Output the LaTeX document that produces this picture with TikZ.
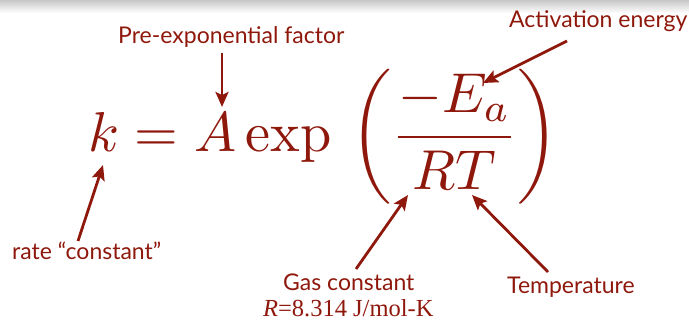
\documentclass[tikz,border=0pt]{standalone}
\usepackage{graphicx}
\usepackage{fontspec}
\usetikzlibrary{arrows.meta}
\newfontfamily\lblfont{Lato}
\newfontfamily\serifnum{Liberation Serif}
\definecolor{myred}{RGB}{143,24,12}
\tikzset{
  lbl/.style={font=\lblfont\fontsize{23}{23}\selectfont, text=myred, inner sep=0pt},
  pointer/.style={draw=myred, line width=2.8pt, -{Stealth[length=15pt,width=13pt,inset=3pt]}},
}
\begin{document}
\begin{tikzpicture}[x=1pt,y=-1pt]
\useasboundingbox (0,0) rectangle (689,321);
\shade[top color=black!22, bottom color=white] (0,0) rectangle (689,13);
% equation
\node[anchor=base west, inner sep=0pt, text=myred] (eq) at (88,151)
  {\scalebox{5.62}{$\displaystyle k = A\exp\,\left(\frac{-E_a}{RT}\right)$}};
% labels
\node[lbl, anchor=base west] (pre) at (118,44) {Pre-exponential factor};
\node[lbl, anchor=base west] (act) at (509,28) {Activation energy};
\node[lbl, anchor=base west] (rate) at (12,259) {rate “constant”};
\node[lbl, anchor=base west] (gas) at (283,290) {Gas constant};
\node[anchor=base west, inner sep=0pt, text=myred,
      font=\serifnum\fontsize{24.5}{24.5}\selectfont] (rval) at (263,316) {\textit{R}=8.314 J/mol-K};
\node[lbl, anchor=base west] (temp) at (507,293) {Temperature};
% arrow ends
\coordinate (preT) at (222,53);   \coordinate (preH) at (222,107);
\coordinate (actT) at (567,41);   \coordinate (actH) at (483,83);
\coordinate (rateT) at (78,241);  \coordinate (rateH) at (103,165);
\coordinate (gasT) at (356,269);  \coordinate (gasH) at (408,195);
\coordinate (tempT) at (548,272); \coordinate (tempH) at (472,195);
\draw[pointer] (preT) -- (preH);
\draw[pointer] (actT) -- (actH);
\draw[pointer] (rateT) -- (rateH);
\draw[pointer] (gasT) -- (gasH);
\draw[pointer] (tempT) -- (tempH);
\end{tikzpicture}
\end{document}
